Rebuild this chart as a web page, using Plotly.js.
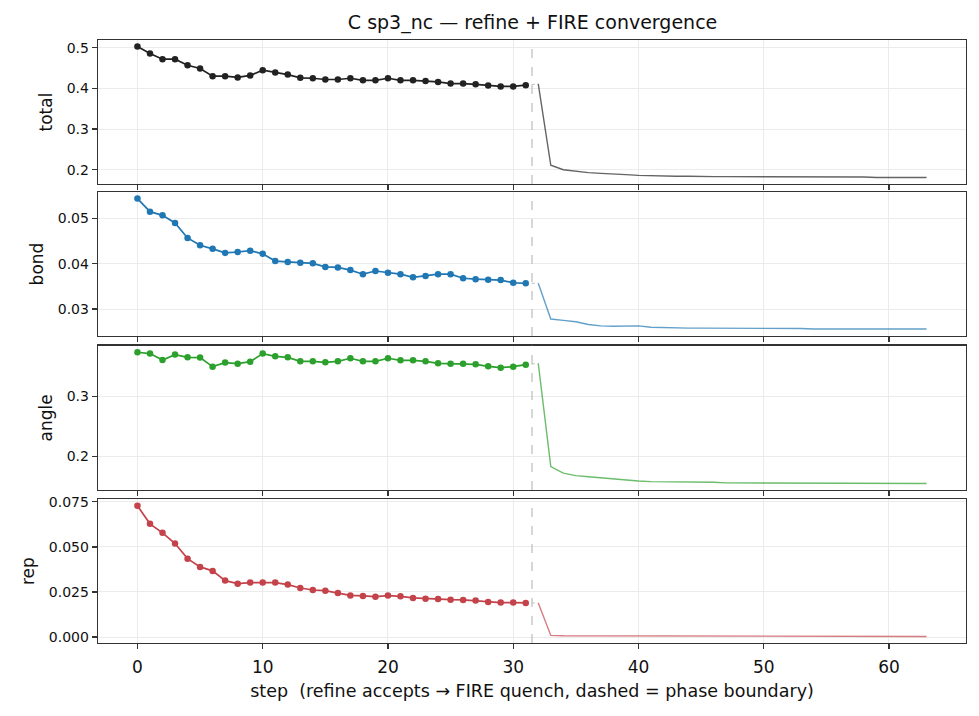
<!DOCTYPE html>
<html>
<head>
<meta charset="utf-8">
<script src="https://cdn.plot.ly/plotly-3.0.1.min.js"></script>
<style>html,body{margin:0;padding:0;background:#fff;}#chart{width:979px;height:716px;}</style>
</head>
<body>
<div id="chart"></div>
<script>
// ---- data ----
const refineSteps = [0,1,2,3,4,5,6,7,8,9,10,11,12,13,14,15,16,17,18,19,20,21,22,23,24,25,26,27,28,29,30,31];
const fireSteps = [32,33,34,35,36,37,38,39,40,41,42,43,44,45,46,47,48,49,50,51,52,53,54,55,56,57,58,59,60,61,62,63];
const boundaryStep = 31.5;

const totalRefine = [0.503,0.486,0.472,0.472,0.457,0.449,0.430,0.430,0.427,0.432,0.445,0.439,0.434,0.426,0.425,0.422,0.422,0.425,0.420,0.420,0.425,0.420,0.420,0.418,0.416,0.412,0.412,0.410,0.407,0.405,0.405,0.408];
const totalFire = [0.411,0.211,0.200,0.196,0.193,0.191,0.190,0.188,0.186,0.185,0.184,0.184,0.184,0.183,0.183,0.183,0.183,0.182,0.182,0.182,0.182,0.182,0.182,0.182,0.182,0.182,0.182,0.181,0.181,0.181,0.181,0.181];

const bondRefine = [0.0544,0.0515,0.0507,0.0490,0.0457,0.0441,0.0433,0.0424,0.0426,0.0429,0.0422,0.0406,0.0404,0.0402,0.0401,0.0393,0.0392,0.0386,0.0377,0.0384,0.0380,0.0377,0.0370,0.0373,0.0377,0.0377,0.0368,0.0366,0.0365,0.0364,0.0358,0.0357];
const bondFire = [0.0357,0.0278,0.0275,0.0272,0.0266,0.0263,0.0262,0.0263,0.0263,0.0260,0.0259,0.0259,0.0258,0.0258,0.0258,0.0258,0.0257,0.0257,0.0257,0.0257,0.0257,0.0257,0.0256,0.0256,0.0256,0.0256,0.0255,0.0255,0.0255,0.0256,0.0256,0.0256];

const angleRefine = [0.3728,0.3706,0.3600,0.3689,0.3644,0.3639,0.3489,0.3556,0.3539,0.3572,0.3706,0.3661,0.3644,0.3578,0.3578,0.3561,0.3578,0.3628,0.3578,0.3578,0.3628,0.3594,0.3594,0.3578,0.3544,0.3539,0.3539,0.3528,0.3494,0.3472,0.3489,0.3522];
const angleFire = [0.3544,0.183,0.172,0.168,0.166,0.164,0.162,0.161,0.159,0.158,0.158,0.157,0.157,0.157,0.157,0.156,0.156,0.156,0.156,0.156,0.156,0.156,0.156,0.156,0.156,0.156,0.156,0.155,0.155,0.155,0.155,0.155];

const repRefine = [0.0728,0.0628,0.0578,0.0519,0.0435,0.0389,0.0367,0.0313,0.0296,0.0302,0.0302,0.0302,0.0291,0.0272,0.0261,0.0257,0.0244,0.0231,0.0228,0.0224,0.0230,0.0226,0.0217,0.0213,0.0211,0.0207,0.0206,0.0202,0.0194,0.0191,0.0191,0.0189];
const repFire = [0.0189,0.0009,0.0007,0.0007,0.0006,0.0006,0.0006,0.0006,0.0006,0.0006,0.0006,0.0006,0.0006,0.0006,0.0005,0.0005,0.0005,0.0005,0.0005,0.0005,0.0005,0.0005,0.0005,0.0005,0.0004,0.0004,0.0004,0.0004,0.0004,0.0004,0.0003,0.0003];

const panelNames = ["total","bond","angle","rep"];
const panelColors = ["#222222","#1f77b4","#2ca02c","#c4434a"];
const fireColors = ["rgba(34,34,34,0.7)","rgba(31,119,180,0.7)","rgba(44,160,44,0.7)","rgba(196,67,74,0.7)"];
const yTickFormats = [".1f",".2f",".1f",".3f"];
const yDticks = [0.1,0.01,0.1,0.025];
const xTickVals = [0,10,20,30,40,50,60];

const refineSets = [totalRefine,bondRefine,angleRefine,repRefine];
const fireSets = [totalFire,bondFire,angleFire,repFire];

// ---- layout geometry ----
const H = 716, W = 979;
const mT = 40, mB = 73, mL = 98, mR = 13;
const plotH = H - mT - mB;
const panelPx = [[40,184],[192,336],[345.7,490],[499.3,643]];
const domains = panelPx.map(p => [(H - mB - p[1]) / plotH, (H - mB - p[0]) / plotH]);

const traces = [];
const layout = {
  width: W, height: H,
  margin: {t: mT, b: mB, l: mL, r: mR},
  paper_bgcolor: "#fff", plot_bgcolor: "#fff",
  showlegend: false,
  font: {family: "DejaVu Sans, sans-serif", color: "#111"},
  title: {text: "C sp3_nc — refine + FIRE convergence", font: {size: 19, color: "#111"},
          x: 0.544, xanchor: "center", y: 1 - 22/H, yanchor: "middle", yref: "container"},
  shapes: []
};

for (let i = 0; i < 4; i++) {
  const n = i + 1;
  const xa = n === 1 ? "x" : "x" + n;
  const ya = n === 1 ? "y" : "y" + n;
  const xKey = n === 1 ? "xaxis" : "xaxis" + n;
  const yKey = n === 1 ? "yaxis" : "yaxis" + n;
  const all = refineSets[i].concat(fireSets[i]);
  const lo = Math.min(...all), hi = Math.max(...all), pad = (hi - lo) * 0.05;

  layout[xKey] = {
    domain: [0, 1], anchor: ya, range: [-3.15, 66.15],
    tickvals: xTickVals, showticklabels: i === 3,
    ticks: "outside", ticklen: 5, tickwidth: 1.2, tickcolor: "#333",
    tickfont: {size: 17, color: "#111"}, ticklabelstandoff: 3,
    showgrid: true, gridcolor: "#ebebeb", gridwidth: 1,
    showline: true, mirror: true, linecolor: "#333", linewidth: 1.3,
    zeroline: false
  };
  if (n > 1) layout[xKey].matches = "x";
  if (i === 3) layout[xKey].title = {text: "step  (refine accepts → FIRE quench, dashed = phase boundary)", font: {size: 17.5, color: "#111"}, standoff: 9};

  layout[yKey] = {
    domain: domains[i], anchor: xa, range: [lo - pad, hi + pad],
    dtick: yDticks[i], tick0: 0, tickformat: yTickFormats[i],
    ticks: "outside", ticklen: 5, tickwidth: 1.2, tickcolor: "#333",
    tickfont: {size: 14, color: "#111"},
    showgrid: true, gridcolor: "#ebebeb", gridwidth: 1,
    showline: true, mirror: true, linecolor: "#333", linewidth: 1.3,
    zeroline: false,
    title: {text: panelNames[i], font: {size: 17, color: "#111"}, standoff: 9}
  };

  layout.shapes.push({type: "line", xref: xa, yref: ya + " domain", x0: boundaryStep, x1: boundaryStep, y0: 0, y1: 1,
    line: {color: "#bdbdbd", width: 1.2, dash: "dash"}, layer: "above"});

  // dotted connector between phases
  traces.push({x: [refineSteps[refineSteps.length-1], fireSteps[0]],
    y: [refineSets[i][refineSets[i].length-1], fireSets[i][0]],
    xaxis: xa, yaxis: ya, mode: "lines", line: {color: "rgba(170,170,170,0.8)", width: 1, dash: "dot"}, hoverinfo: "skip"});
  // FIRE line
  traces.push({x: fireSteps, y: fireSets[i], xaxis: xa, yaxis: ya, mode: "lines",
    line: {color: fireColors[i], width: 1.4}});
  // refine markers+line
  traces.push({x: refineSteps, y: refineSets[i], xaxis: xa, yaxis: ya, mode: "lines+markers",
    line: {color: panelColors[i], width: 1.7}, marker: {color: panelColors[i], size: 6.5}});
}

Plotly.newPlot("chart", traces, layout, {displayModeBar: false, staticPlot: true});
</script>
</body>
</html>
